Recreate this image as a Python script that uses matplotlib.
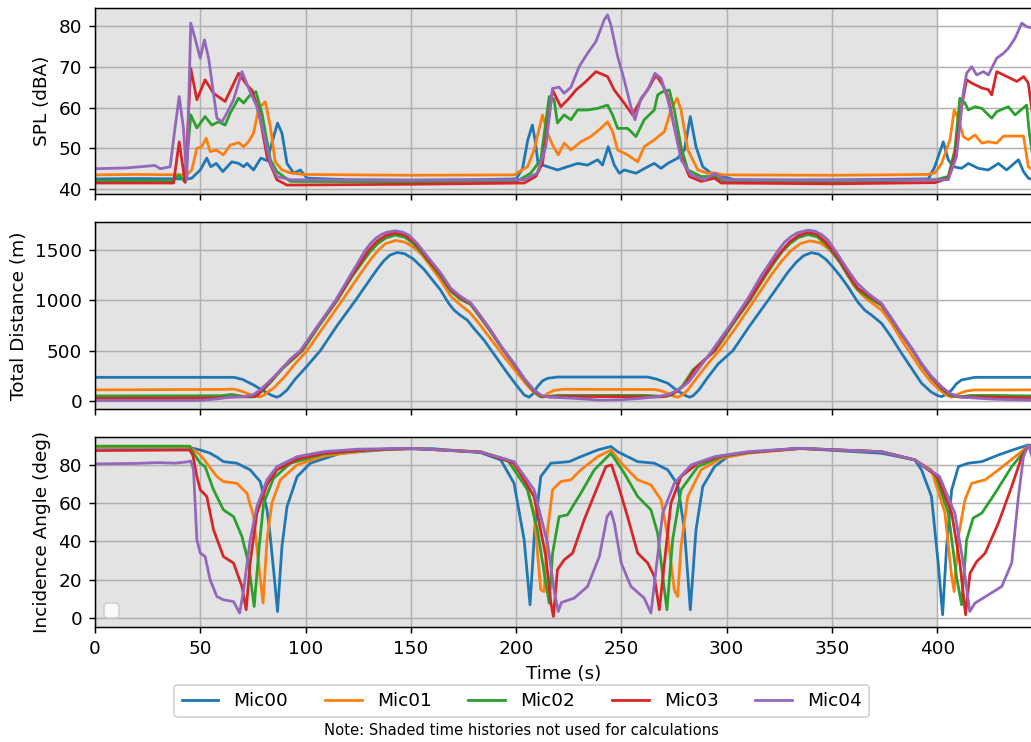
import matplotlib
matplotlib.use("Agg")
import matplotlib.pyplot as plt

# ── Data ─────────────────────────────────────────────────────────────────────
mics = ["Mic00", "Mic01", "Mic02", "Mic03", "Mic04"]
shade_end = 400
t_max = 445.5

# SPL (dBA)
spl_t_00 = [0, 20, 44, 46, 50, 53.1, 55, 57.6, 60.7, 65, 68.2, 70.6, 72.2, 75.3, 78.8, 81.7, 84, 86.7, 88.8, 91.2, 94.4, 97.5, 100.7, 120, 150, 180,
            200, 203, 205.5, 207.7, 209, 210.4, 214.9, 219.6, 224.4, 229.2, 233.9, 238.7, 241, 243.7, 246.6, 249, 251.4, 256.9, 262.5, 265.6, 268.8,
            272, 276.7, 279.9, 282.7, 285.4, 288.6, 292.6, 295.8, 303.5, 330, 360, 395.7, 398.8, 402.8, 405.2, 407.6, 411.5, 414.7, 419.5, 424.2,
            429, 432.9, 438.5, 440.9, 443.2, 445.5]
spl_00 = [42.5, 42.6, 42.5, 42.7, 44.7, 47.6, 45.5, 46.3, 44.3, 46.7, 46.3, 45.5, 46.3, 44.7, 47.6, 47.0, 51.3, 56.2, 53.7, 46.3, 43.9, 44.7, 42.7, 42.3, 42.2, 42.3,
          42.5, 45.0, 52.0, 55.7, 52.0, 46.3, 45.5, 44.7, 45.5, 46.3, 45.9, 47.2, 45.9, 50.4, 45.9, 43.9, 44.7, 43.9, 45.5, 46.3, 45.1,
          46.3, 47.6, 49.6, 57.8, 50.4, 45.5, 43.9, 43.5, 42.3, 42.2, 42.3, 42.5, 45.5, 51.6, 47.2, 45.5, 45.1, 46.3, 45.1, 44.7,
          46.3, 44.7, 47.2, 44.3, 42.7, 42.3]

spl_t_01 = [0, 20, 43.6, 46, 48.4, 50.7, 52.8, 54.7, 57.6, 61, 64.2, 68.2, 70.6, 72.9, 75.3, 77.7, 80.9, 83.3, 85.6, 88.8, 92.8, 99, 150,
            199, 205.4, 208.5, 212.5, 214.9, 217.3, 220, 222.8, 226, 230.7, 235.5, 240.2, 243.4, 245.8, 248.2, 252.9, 257.7, 260.8, 265.6, 270.4,
            273.5, 276.4, 278.3, 281.5, 286.3, 291, 294.2, 298.6, 350, 395, 399, 402, 406, 408, 410.2, 412.3, 414.7, 417.9, 421.1, 424.2, 428.2,
            431.4, 437, 440.9, 443.2, 445.5]
spl_01 = [43.5, 43.6, 43.5, 44.7, 50.0, 50.4, 52.5, 49.2, 49.6, 48.4, 50.8, 51.4, 50.4, 51.6, 53.7, 59.8, 61.4, 55.3, 46.7, 44.7, 44.0, 43.6, 43.4,
          43.5, 45.5, 49.6, 58.2, 53.7, 50.8, 48.4, 51.3, 49.6, 51.6, 52.9, 54.9, 56.5, 54.1, 49.6, 48.4, 46.7, 50.4, 52.1, 54.1,
          59.4, 62.3, 59.4, 49.6, 44.7, 43.9, 44.0, 43.5, 43.4, 43.6, 44.0, 46.3, 52.1, 59.4, 57.0, 52.9, 52.1, 53.3, 51.3, 51.6, 51.3,
          53.0, 53.0, 53.0, 45.5, 44.7]

spl_t_02 = [0, 37, 39.8, 42.8, 45.5, 48.4, 52.3, 55.5, 58.7, 61.8, 64.2, 68.2, 70.6, 73.7, 76.4, 79.3, 83.3, 86.4, 92.8, 150,
            200.6, 206.9, 211.7, 215.7, 218, 219.6, 222.8, 226, 229.2, 233.9, 238.7, 243.4, 245.8, 248.2, 252.9, 256.9, 260.8, 265.6, 267.2,
            269.6, 272.7, 275.1, 278.3, 281.5, 287.8, 294.2, 298.9, 350, 399, 405.2, 408.3, 410.7, 413.1, 414.7, 417.9, 421.1, 425.8, 428.2,
            433.7, 436.9, 442.4, 443.7, 445.5]
spl_02 = [42.0, 42.0, 43.5, 41.7, 58.2, 55.0, 57.8, 55.7, 56.5, 55.7, 58.6, 62.3, 61.1, 63.1, 63.9, 58.6, 47.2, 44.3, 41.9, 41.8,
          42.0, 43.9, 47.2, 62.7, 62.0, 56.2, 58.2, 57.0, 59.4, 59.4, 59.8, 60.6, 58.2, 54.9, 54.9, 52.9, 57.0, 59.4, 63.1,
          63.9, 64.3, 59.4, 50.4, 44.7, 43.1, 43.1, 41.9, 41.8, 42.3, 43.1, 49.6, 62.3, 61.1, 59.4, 60.2, 59.8, 57.4, 59.0,
          60.2, 58.2, 60.6, 53.7, 47.2]

spl_t_03 = [0, 37.3, 40, 42.8, 45.5, 48.4, 52.3, 56.3, 61.8, 68.2, 72.2, 74.5, 77.7, 81.7, 86.4, 91.2, 150,
            203.8, 209.3, 212.5, 217.3, 221.2, 225.2, 228.4, 232.3, 237.9, 243.4, 246.6, 251.3, 255.3, 259.3, 263.3, 266.4, 269.6, 272,
            275.1, 278.3, 282.3, 287.8, 294.2, 297.4, 350, 399, 405.2, 408.3, 411.5, 413.9, 416.3, 421.1, 424.2, 425.8, 428.2, 433,
            437.8, 441, 443.2, 445.5]
spl_03 = [41.5, 41.5, 51.6, 41.7, 69.6, 61.9, 66.8, 63.5, 61.5, 68.4, 65.5, 64.3, 59.4, 48.0, 42.3, 41.0, 41.2,
          41.5, 43.1, 46.3, 64.3, 60.2, 62.3, 64.3, 66.0, 68.8, 67.6, 64.3, 61.1, 58.2, 62.0, 65.1, 68.0, 65.5, 62.7,
          55.3, 48.0, 43.1, 41.9, 42.7, 41.5, 41.3, 41.6, 42.7, 48.0, 60.2, 66.8, 66.0, 64.8, 64.4, 63.1, 68.8, 67.6,
          66.4, 67.6, 66.0, 57.0]

spl_t_04 = [0, 15, 28.5, 31, 35.7, 38, 40, 42, 43.6, 45.5, 47.5, 50, 52, 54, 57.9, 60.3, 62.6, 65.8, 69.8, 72.9, 76.9, 80.1, 83.3, 86.4,
            92.8, 150, 203.8, 210, 214.1, 217.3, 220.4, 222.8, 226, 229.9, 233.9, 237.9, 241.8, 243.4, 245, 248.2, 251.3, 254.5, 256.4,
            259.3, 262.5, 265.9, 268.8, 272, 275.1, 278.3, 283.1, 289.4, 294.2, 298.9, 350, 405.2, 409.1, 412.3, 413.9, 416.3, 418.7,
            421.9, 424.2, 428.2, 431.4, 433.7, 436.9, 440.1, 442.5, 445.5]
spl_04 = [45.0, 45.2, 45.8, 45.0, 45.5, 55.0, 62.7, 55.0, 42.3, 80.7, 77.0, 72.1, 76.6, 72.0, 57.4, 56.5, 58.6, 61.9, 68.8, 64.8, 60.2, 53.7, 46.4, 43.1,
          42.3, 42.2, 42.3, 43.9, 50.4, 64.7, 65.0, 63.5, 65.0, 70.0, 73.3, 76.2, 81.5, 82.7, 80.2, 72.5, 66.8, 60.2, 57.0,
          62.3, 64.3, 68.4, 67.2, 62.0, 55.3, 47.2, 43.5, 42.3, 43.9, 42.3, 42.2, 42.3, 48.0, 63.5, 68.4, 70.0, 68.0,
          68.8, 68.0, 72.1, 73.3, 74.5, 77.0, 80.7, 79.8, 79.5]

# Total distance (m)
dist_t_00 = [0, 66, 70, 75.3, 80, 84, 86.4, 88, 91.2, 95, 100, 107, 115, 123.7, 129.3, 134, 137, 140, 143.5, 147, 151, 156.2, 160, 164.1,
             168, 170.5, 173.6, 176.8, 180, 184.7, 190, 195.9, 200, 203.8, 206.1, 208, 210.1, 212.5, 214.9, 219.7, 262.5, 267, 272, 276,
             280.3, 282.3, 284, 286.8, 291, 296, 302.9, 311, 319.6, 325, 329, 333, 336.5, 340.2, 343.5, 347, 350.5, 354, 357.6, 362, 365.5,
             369, 373.5, 378, 383, 392.5, 397, 400, 402, 404.5, 406.8, 409, 411.5, 417.9, 445.5]
dist_00 = [235, 235, 215, 159, 100, 55, 37, 52, 109, 215, 330, 500, 750, 1000, 1169, 1310, 1390, 1450, 1477, 1465, 1415, 1310, 1210, 1103,
           970, 904, 850, 805, 720, 606, 450, 275, 160, 60, 37, 70, 142, 200, 225, 238, 238, 215, 176, 110,
           55, 37, 52, 110, 235, 370, 500, 750, 1000, 1160, 1280, 1380, 1445, 1475, 1462, 1410, 1330, 1240, 1135, 990, 904,
           850, 772, 640, 474, 176, 90, 55, 43, 70, 109, 170, 209, 235, 235]

dist_t_01 = [0, 62, 66, 70, 74, 76.5, 78.5, 80.5, 82, 84.8, 90, 95, 100.7, 109, 117.4, 125.5, 131, 134.5, 138, 142.8, 147, 151, 155, 158,
             164.1, 169, 173.6, 178, 182, 189.5, 195, 200.6, 205, 208, 210.1, 212.5, 215, 218, 222, 265.6, 269, 272, 274.5, 276.7, 279,
             281.5, 286, 291, 296.4, 305, 313, 321, 326, 330.5, 335, 339.4, 344, 348, 351.5, 355, 360, 364, 367.1, 373.5, 378, 383, 392.5,
             397, 402, 404.5, 406.8, 409, 411.5, 414, 417.9, 445.5]
dist_01 = [110, 115, 118, 95, 60, 47, 43, 60, 90, 126, 240, 370, 500, 750, 1000, 1250, 1410, 1500, 1565, 1596, 1580, 1535, 1460, 1380,
           1202, 1040, 954, 880, 780, 573, 420, 275, 160, 95, 60, 37, 75, 105, 116, 114, 100, 76, 50, 37, 60,
           110, 235, 370, 500, 750, 1000, 1250, 1390, 1495, 1565, 1592, 1575, 1520, 1440, 1350, 1160, 1060, 1003, 904, 780, 606, 308,
           190, 93, 55, 37, 60, 83, 100, 109, 110]

dist_t_02 = [0, 60, 65, 69, 73, 76, 80, 84, 89, 98.5, 106.5, 115, 122.5, 127, 130.5, 134, 138, 142.6, 147, 151, 155, 158, 164.1, 169, 173.6,
             178.4, 183, 187.9, 193, 199, 204, 208.5, 211.5, 215, 220, 262, 266, 270, 274, 279, 284, 294.5, 302.5, 311, 318.5, 323,
             326.5, 330, 334, 338.6, 343, 347, 350.5, 354, 357.6, 362, 367.1, 373.5, 378, 383, 388, 392.5, 397, 402, 406, 410, 416,
             425, 445.5]
dist_02 = [50, 52, 65, 50, 40, 42, 110, 200, 320, 500, 750, 1000, 1250, 1380, 1480, 1560, 1620, 1650, 1630, 1570, 1480, 1400, 1240, 1090, 1010,
           960, 830, 690, 530, 360, 210, 95, 42, 45, 55, 55, 50, 42, 60, 150, 310, 500, 750, 1000, 1250, 1390,
           1490, 1565, 1625, 1655, 1632, 1560, 1470, 1370, 1245, 1110, 1030, 950, 820, 660, 510, 360, 235, 120, 55, 40, 55,
           55, 50]

dist_t_03 = [0, 58, 65, 72, 77, 80, 84, 89, 98, 106, 114.6, 122, 126.5, 130, 134, 138, 142.5, 147, 151, 155, 158, 164.1, 169, 173.6, 178.4,
             183, 187.9, 193, 199, 204, 208.5, 212, 216, 222, 262, 268, 272, 276, 280, 285, 294, 302, 310.5, 318, 322.5, 326, 330, 334,
             338.6, 343, 347, 350.5, 354, 357.6, 362, 367.1, 373.5, 378, 383, 388, 392.5, 397, 402, 406, 411, 420, 445.5]
dist_03 = [25, 30, 40, 42, 52, 120, 210, 330, 500, 750, 1000, 1250, 1390, 1500, 1590, 1645, 1672, 1650, 1590, 1500, 1410, 1258, 1105, 1025, 968,
           840, 698, 535, 367, 215, 100, 48, 40, 45, 42, 40, 52, 90, 160, 320, 500, 750, 1000, 1250, 1395, 1490, 1585, 1645,
           1677, 1655, 1580, 1490, 1385, 1260, 1125, 1050, 960, 825, 665, 515, 367, 240, 130, 65, 38, 40, 30]

dist_t_04 = [0, 50, 58, 64, 70, 75, 78.5, 82, 86, 89.6, 93, 97.5, 105.9, 114.2, 121.3, 125, 128.4, 131, 133.5, 136, 138.5, 142.5, 146, 149,
             153, 158.5, 164.1, 169, 173.6, 178.4, 183, 187.9, 193, 199, 204, 208.5, 212, 216, 227.6, 240, 250, 259.3, 266, 272, 277,
             282, 287, 293, 301.5, 309.5, 316.5, 321, 324.5, 327.5, 330.5, 333.5, 338.6, 342, 345, 348.1, 352, 357.6, 362, 367.1, 373.5,
             378, 383, 388, 392.5, 397, 402, 406, 411.5, 427.3, 445.5]
dist_04 = [5, 5, 20, 38, 42, 60, 110, 180, 260, 340, 420, 500, 750, 1000, 1250, 1380, 1500, 1570, 1620, 1655, 1678, 1692, 1680, 1650,
           1567, 1420, 1275, 1120, 1040, 975, 850, 705, 540, 374, 220, 109, 55, 38, 26, 8, 12, 26, 40, 62, 110,
           190, 330, 500, 750, 1000, 1250, 1390, 1500, 1580, 1635, 1672, 1699, 1688, 1655, 1600, 1480, 1300, 1170, 1070, 970,
           830, 672, 520, 374, 250, 142, 75, 37, 17, 8]

# Incidence angle (deg)
ang_t_00 = [0, 45, 46, 50, 54.7, 58, 61, 67.4, 73.7, 78.5, 81.7, 83, 84.5, 85.7, 86.7, 88.8, 91.2, 96, 102.3, 116.6, 140.3, 160,
            183.2, 192.7, 199, 203.8, 206.6, 208.8, 211.7, 216.5, 225.2, 230.7, 238.7, 245, 248.2, 257.7, 265.6, 272, 276.7, 279.9, 282.7,
            285.4, 288.6, 294.2, 300.5, 310, 333.8, 373.5, 389.3, 392.5, 397.2, 400.4, 402.5, 404.4, 406.8, 410, 414.7, 421.1, 429, 436.9,
            443.2, 445.5]
ang_00 = [89.2, 89.2, 88.8, 87.8, 86.1, 84.0, 81.7, 80.9, 77.4, 71.3, 56.5, 45.0, 28.7, 15.0, 3.4, 37.4, 58.2, 73.9, 80.9, 86.1, 88.2, 88.5,
          86.4, 82.6, 70.4, 40.8, 6.9, 46.1, 73.9, 80.9, 81.7, 84.3, 87.8, 89.6, 86.9, 81.7, 80.9, 77.4, 69.6, 46.1, 4.3,
          46.1, 68.7, 79.1, 84.3, 86.4, 88.7, 86.1, 82.6, 77.4, 63.5, 28.7, 1.7, 37.4, 67.0, 79.1, 80.9, 81.7, 85.2, 88.2,
          90.4, 90.0]

ang_t_01 = [0, 45, 46.8, 50, 53.1, 57.9, 61, 67.4, 72.2, 75.3, 77.7, 79.8, 81.7, 84, 88, 96, 108.6, 130, 150, 183.2, 195.9, 203.8, 208.5,
            211.7, 213.3, 214.9, 217.3, 221.2, 226, 230.7, 238.7, 245, 249.9, 257.7, 264, 268.8, 272, 275.1, 276.7, 278.3, 281.5, 287.8,
            297.4, 310, 335, 373.5, 389.3, 397.2, 403.6, 406.8, 408, 410, 413.1, 416.3, 422.7, 429, 436.9, 443.2, 445.5]
ang_01 = [89.5, 89.5, 87.8, 85.2, 80.9, 73.9, 71.3, 70.4, 65.2, 53.0, 28.7, 7.8, 40.8, 60.0, 72.2, 80.0, 84.7, 87.6, 88.6, 86.9, 82.6, 73.9, 54.8,
          14.7, 13.8, 46.1, 67.0, 71.3, 72.2, 77.4, 84.3, 87.8, 80.9, 72.2, 69.6, 61.7, 42.6, 14.7, 11.2, 37.4, 63.5, 77.4,
          83.5, 86.1, 88.5, 86.9, 82.6, 77.4, 54.8, 21.7, 13.8, 42.6, 61.7, 70.4, 72.2, 77.4, 84.3, 89.9, 89.0]

ang_t_02 = [0, 45, 46.8, 50, 52.3, 56.3, 61, 65.8, 69.8, 72.9, 75.6, 78, 80.1, 84.8, 92.8, 108.6, 130, 150, 183.2, 195.9, 205.4, 210.1,
            214.1, 215.7, 217.3, 220.4, 224.4, 230.7, 237.1, 245, 251.3, 257.7, 264, 267.2, 270.4, 271.6, 274.3, 278.3, 286.3, 297.4, 310,
            335, 373.5, 389.3, 399, 405.2, 409.1, 411.5, 413.9, 417, 421.1, 427.4, 435.3, 443.2, 445.5]
ang_02 = [89.8, 89.8, 86.1, 80.9, 79.1, 67.0, 56.5, 53.0, 42.6, 28.7, 6.0, 37.4, 60.0, 73.0, 80.9, 85.7, 87.8, 88.6, 86.7, 82.6, 67.0, 46.1,
          18.2, 7.8, 33.9, 53.0, 53.9, 65.2, 77.4, 86.1, 75.7, 63.5, 56.5, 44.3, 14.7, 4.3, 40.8, 67.0, 79.1, 84.3, 86.5,
          88.6, 86.9, 82.6, 75.0, 54.8, 21.7, 6.9, 40.8, 52.2, 54.8, 65.2, 79.1, 89.6, 88.5]

ang_t_03 = [0, 45, 46.5, 48.4, 50, 53.1, 56.3, 61, 65.8, 69.8, 71.8, 73.7, 76.9, 81.7, 86.4, 96, 108.6, 130, 150, 183.2, 199, 208.5, 214.1,
            216.5, 217.7, 219.6, 222.8, 226.8, 232.3, 238.7, 242.6, 245.3, 248.2, 252.9, 257.7, 262.5, 265.6, 268, 270.4, 273.5, 278.3,
            286.3, 297.4, 310, 335, 373.5, 389.3, 400, 406.8, 410.7, 413.4, 415.5, 418.7, 422.7, 429, 435.3, 440.1, 443.2, 445.5]
ang_03 = [87.5, 87.8, 85.0, 73.9, 67.0, 63.5, 46.1, 32.1, 28.7, 16.5, 4.3, 28.8, 54.8, 69.6, 77.4, 83.0, 86.1, 87.9, 88.6, 86.7, 80.9, 63.5, 32.1,
          7.8, 0.8, 25.2, 30.4, 33.9, 51.3, 68.7, 79.1, 80.0, 70.4, 53.0, 33.9, 28.7, 21.7, 4.3, 28.7, 60.0, 73.9,
          80.9, 84.7, 86.6, 88.6, 86.9, 82.6, 74.0, 54.8, 28.7, 1.7, 23.4, 29.5, 33.9, 49.6, 68.7, 84.3, 89.9, 88.0]

ang_t_04 = [0, 20, 30, 38, 44, 45.5, 46.8, 48.4, 50, 52.3, 54.7, 57.9, 61, 65.8, 68.7, 70.6, 73.7, 76.9, 81.7, 86.4, 96, 108.6, 124.5,
            148.3, 183.2, 199, 208.5, 214.9, 218, 220, 221.5, 227.6, 233.9, 239.5, 243.2, 245, 246.6, 249.9, 254.5, 260.8, 264, 266.4,
            269.6, 275.1, 283.1, 294.2, 310, 335, 373.5, 389.3, 401, 408.3, 412.3, 415.4, 417.9, 424.2, 430.6, 435.3, 438.5, 440.9,
            443.2, 445.5]
ang_04 = [80.5, 80.8, 81.2, 80.9, 81.6, 82.0, 77.4, 40.8, 34.0, 32.1, 19.9, 11.2, 9.5, 8.6, 2.6, 14.7, 40.8, 58.2, 72.2, 79.1, 84.3, 86.9, 88.2,
          88.7, 86.7, 81.7, 67.0, 39.1, 14.7, 3.4, 8.1, 10.4, 16.5, 32.1, 53.0, 55.6, 49.6, 28.7, 16.5, 10.4, 2.6, 25.2,
          54.8, 70.4, 80.0, 84.3, 86.9, 88.7, 86.9, 82.6, 74.0, 54.8, 28.7, 3.4, 7.8, 12.1, 16.5, 28.7, 63.5, 84.3,
          90.4, 82.6]

spl_series = [(spl_t_00, spl_00), (spl_t_01, spl_01), (spl_t_02, spl_02), (spl_t_03, spl_03), (spl_t_04, spl_04)]
dist_series = [(dist_t_00, dist_00), (dist_t_01, dist_01), (dist_t_02, dist_02), (dist_t_03, dist_03), (dist_t_04, dist_04)]
ang_series = [(ang_t_00, ang_00), (ang_t_01, ang_01), (ang_t_02, ang_02), (ang_t_03, ang_03), (ang_t_04, ang_04)]

# ── Figure ───────────────────────────────────────────────────────────────────
DPI = 133
fig = plt.figure(figsize=(1031 / DPI, 742 / DPI), dpi=DPI)
ax1 = fig.add_axes([0.0921, 0.7385, 0.9100, 0.2507])
ax2 = fig.add_axes([0.0921, 0.4488, 0.9100, 0.2520], sharex=ax1)
ax3 = fig.add_axes([0.0921, 0.1550, 0.9100, 0.2561], sharex=ax1)

panels = [
    (ax1, spl_series, "SPL (dBA)", (38.8, 84.4)),
    (ax2, dist_series, "Total Distance (m)", (-80, 1780)),
    (ax3, ang_series, "Incidence Angle (deg)", (-4.7, 94.6)),
]
for ax, series, ylab, ylim in panels:
    ax.axvspan(0, shade_end, color="#e3e3e3", lw=0, zorder=0.5)
    for name, (t, v) in zip(mics, series):
        ax.plot(t, v, lw=1.5, label=name)
    ax.set_ylabel(ylab)
    ax.set_ylim(*ylim)
    ax.grid(True)

ax1.set_yticks([40, 50, 60, 70, 80])
ax2.set_yticks([0, 500, 1000, 1500])
ax3.set_yticks([0, 20, 40, 60, 80])
ax1.set_xlim(0, t_max)
ax1.set_xticks(range(0, 401, 50))
ax1.tick_params(labelbottom=False)
ax2.tick_params(labelbottom=False)
ax3.set_xlabel("Time (s)")

# empty legend box left in the lower panel
ax3.legend(handles=[], loc="lower left")

handles, labels = ax1.get_legend_handles_labels()
fig.legend(handles, labels, loc="center", bbox_to_anchor=(0.506, 0.0553), ncol=5)
fig.text(0.506, 0.016, "Note: Shaded time histories not used for calculations",
         ha="center", va="center", fontsize=8)

fig.savefig("out.png", dpi=DPI)
